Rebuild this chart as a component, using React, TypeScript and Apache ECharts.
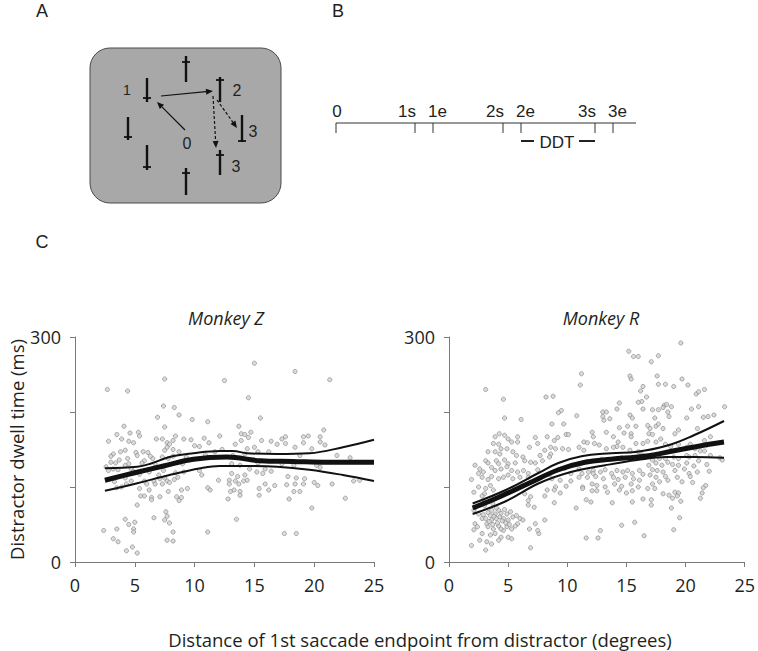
import React, { useEffect, useRef } from "react";
import * as echarts from "echarts";

// ---------- Data ----------
const xTickValues = [0, 5, 10, 15, 20, 25];
const yLabelled = [0, 300];
const panelTitles = ["Monkey Z", "Monkey R"];
const yAxisTitle = "Distractor dwell time (ms)";
const xAxisTitle = "Distance of 1st saccade endpoint from distractor (degrees)";

// Timeline (panel B)
const timelineLabels = ["0", "1s", "1e", "2s", "2e", "3s", "3e"];

// Monkey Z scatter [distance, dwell time]
const monkeyZPoints: [number, number][] = [
  [2.7,230],[4.4,228],[7.5,244],[12.5,242],[7.4,208],[8.3,206],[8.7,196],[6.9,193],[9.8,190],[11.1,187],
  [4.1,181],[7.5,180],[3.5,170],[4.6,172],[5.3,173],[5.4,168],[8.4,168],[3.9,164],[2.8,161],[4.5,161],
  [4.9,159],[6.8,164],[7.3,164],[7.7,159],[7.9,157],[8.2,162],[9.1,164],[9.7,163],[10.8,165],[11.2,159],
  [12.1,168],[3.2,144],[3.0,141],[3.8,147],[4.2,149],[5.1,146],[5.2,142],[5.7,147],[6.1,146],[7.7,153],
  [7.5,149],[8.2,150],[8.2,141],[7.3,140],[7.8,138],[8.7,147],[10.0,155],[10.4,154],[5.8,135],[6.5,138],
  [5.6,132],[6.7,131],[3.4,132],[4.2,129],[4.7,124],[4.9,121],[4.5,131],[2.8,122],[3.2,124],[3.6,123],
  [5.4,117],[6.2,120],[7.0,116],[7.4,122],[8.4,119],[9.1,120],[10.4,122],[10.6,116],[12.0,109],[3.3,107],
  [4.2,112],[4.3,104],[4.7,108],[5.8,108],[6.0,104],[6.6,108],[7.1,111],[7.5,112],[7.3,104],[7.7,108],
  [7.9,106],[8.3,110],[8.6,113],[6.7,104],[3.9,100],[3.5,99],[5.4,98],[6.2,96],[7.8,94],[8.9,96],
  [9.4,98],[11.1,99],[11.3,96],[5.5,88],[5.8,88],[6.4,86],[6.4,83],[7.1,87],[8.5,87],[8.7,82],
  [8.9,86],[5.2,76],[4.2,57],[6.6,59],[7.6,67],[7.7,61],[7.5,56],[7.9,52],[4.5,50],[5.0,53],
  [2.4,42],[3.5,44],[4.9,44],[4.9,40],[8.2,40],[11.1,40],[3.2,31],[3.6,27],[7.7,29],[8.2,28],
  [4.3,15],[4.8,20],[5.2,12],
  [15.0,265],[18.4,254],[21.3,243],[14.5,219],[15.5,192],[13.7,181],[13.9,171],[14.2,170],[14.7,173],[14.5,166],
  [13.4,157],[13.9,162],[14.4,151],[15.0,153],[15.6,162],[16.4,161],[16.9,157],[17.3,164],[17.6,167],[17.6,158],
  [18.4,153],[19.1,167],[19.5,168],[19.1,159],[19.8,151],[20.5,167],[20.5,160],[20.8,176],[20.9,156],[21.9,142],
  [23.0,139],[13.2,142],[14.2,144],[15.3,147],[16.2,147],[18.8,142],[13.1,131],[13.8,129],[14.6,124],[15.3,132],
  [15.9,124],[17.3,131],[18.3,129],[20.2,129],[20.5,126],[13.1,118],[13.6,114],[14.2,116],[15.2,120],[15.7,118],
  [16.4,121],[17.8,114],[18.5,112],[19.2,111],[12.9,109],[13.4,108],[14.1,108],[14.4,109],[12.9,104],[13.7,104],
  [15.9,104],[16.7,102],[17.7,103],[18.4,104],[19.1,104],[20.0,106],[20.3,102],[21.5,104],[23.3,108],[23.8,109],
  [13.0,94],[13.3,96],[13.8,94],[15.4,98],[16.2,96],[18.3,94],[18.8,94],[13.8,89],[15.4,89],[12.8,84],
  [17.9,84],[22.6,85],[19.8,72],[13.5,57],[17.5,38],[18.5,38],
  [2.6,127],[3.0,133],[3.7,136],[4.4,138],[6.3,141],[9.3,140],[10.9,143],[11.7,147],[12.3,150],[9.0,131],
];

// Monkey R scatter [distance, dwell time]
const monkeyRPoints: [number, number][] = [
  [3.1,230],[4.6,217],[4.7,192],[6.1,190],[8.2,220],[4.25,171],[4.7,169],[3.9,167],[5.0,164],[5.3,160],
  [5.8,167],[5.8,160],[7.3,166],[3.75,158],[4.2,157],[4.4,151],[3.3,147],[3.9,147],[4.3,144],[4.9,151],
  [5.4,147],[5.7,142],[6.8,153],[7.5,158],[7.7,142],[8.1,149],[3.1,135],[3.3,132],[4.0,135],[4.2,131],
  [4.7,136],[5.0,131],[5.6,132],[6.25,140],[6.4,135],[6.9,133],[7.3,132],[7.9,135],[2.2,129],[2.6,124],
  [2.9,120],[2.5,118],[3.6,126],[3.9,122],[4.4,124],[4.9,127],[5.3,122],[5.8,120],[6.3,122],[6.7,118],
  [7.5,123],[1.9,110],[2.8,113],[3.3,110],[3.6,114],[4.2,111],[4.6,113],[5.0,116],[5.4,111],[6.0,113],
  [6.7,113],[2.1,93],[2.5,100],[3.1,98],[3.5,102],[3.75,96],[3.0,91],[2.8,88],[6.4,91],[6.7,82],
  [6.9,87],[7.2,73],[8.1,88],[2.1,69],[2.5,64],[2.8,58],[2.2,51],[2.1,43],[2.4,47],[3.1,58],
  [3.2,51],[3.5,62],[3.6,69],[3.9,64],[4.2,69],[4.4,65],[4.0,58],[3.6,56],[4.3,60],[4.6,58],
  [4.9,64],[5.0,56],[5.4,60],[5.7,62],[6.0,58],[5.8,51],[6.25,56],[3.3,47],[3.75,44],[4.2,48],
  [4.6,42],[4.9,47],[5.3,44],[2.8,38],[3.5,36],[3.9,38],[4.4,33],[5.0,33],[5.3,31],[2.6,29],
  [3.2,27],[3.6,24],[4.2,29],[1.9,22],[3.1,16],[6.9,19],[6.8,44],[7.3,51],[7.6,38],[8.1,56],
  [7.5,42],[6.7,76],
  [3.4,54],[3.8,61],[4.1,52],[4.5,55],[4.8,52],[3.3,66],[4.0,72],[4.7,70],[5.2,67],[3.0,75],
  [3.7,78],[5.1,50],[5.6,48],[2.9,63],[4.4,44],[3.7,50],
  [15.2,281],[15.6,274],[16.0,274],[11.2,251],[15.3,248],[15.4,244],[11.1,236],[16.4,234],[8.8,221],[16.2,228],
  [16.3,214],[14.4,212],[16.0,213],[14.2,204],[9.5,202],[9.25,199],[10.8,195],[13.0,200],[13.3,200],[13.0,194],
  [13.1,189],[13.6,191],[15.3,196],[15.5,192],[16.4,204],[8.7,184],[9.7,184],[15.1,181],[15.8,181],[14.4,179],
  [12.1,173],[13.3,173],[14.8,172],[15.4,171],[9.9,170],[10.1,170],[8.3,167],[8.9,162],[9.2,166],[12.2,167],
  [13.9,167],[15.4,167],[11.4,160],[11.7,159],[12.3,158],[12.7,156],[14.3,160],[14.2,154],[15.8,158],[16.4,158],
  [8.6,153],[9.0,151],[9.6,151],[10.1,150],[11.0,153],[11.4,149],[13.3,151],[13.9,153],[14.7,153],[15.3,149],
  [16.0,147],[8.6,144],[8.5,140],[10.3,118],[11.0,124],[11.25,118],[11.8,120],[12.2,122],[12.2,118],[12.8,120],
  [13.2,123],[13.75,118],[14.2,122],[14.7,120],[15.1,122],[15.5,118],[16.1,122],[16.4,117],[8.7,111],[9.4,109],
  [10.3,108],[11.0,113],[11.7,113],[12.4,114],[13.05,111],[13.9,113],[14.3,110],[14.9,113],[15.6,111],[16.1,109],
  [9.0,100],[9.9,101],[11.3,100],[12.1,104],[12.5,102],[13.2,100],[14.0,104],[14.6,101],[15.4,104],[16.0,100],
  [8.3,96],[8.9,96],[9.4,92],[11.3,98],[12.1,95],[12.5,95],[13.4,93],[14.4,96],[15.0,92],[15.5,95],
  [11.6,83],[12.0,80],[13.8,79],[15.5,80],[16.4,84],[8.9,79],[10.75,72],[15.7,53],[14.6,49],[12.8,42],
  [11.6,32],[12.6,32],[16.5,35],
  [19.6,292],[17.7,275],[17.1,267],[17.6,248],[19.7,244],[17.7,237],[18.3,237],[19.0,234],[20.2,236],[16.7,220],
  [20.9,224],[21.1,227],[21.6,230],[18.2,209],[18.4,210],[18.8,207],[17.2,203],[17.7,203],[18.1,206],[18.5,200],
  [18.6,194],[20.5,204],[21.1,207],[23.3,207],[20.1,192],[21.5,193],[21.9,194],[22.4,196],[17.4,192],[16.8,182],
  [17.0,178],[17.5,181],[17.7,184],[18.1,178],[16.9,171],[17.2,170],[19.1,171],[19.4,176],[21.0,178],[21.6,162],
  [22.1,167],[16.8,161],[17.5,160],[17.9,164],[18.3,157],[18.75,154],[19.4,157],[20.1,153],[20.4,157],[20.8,151],
  [21.8,156],[21.25,148],[21.6,148],[22.1,142],[22.9,139],[23.1,136],[20.8,142],[20.1,142],[20.3,140],[19.4,138],
  [19.0,140],[18.3,138],[17.8,138],[17.2,136],[16.9,129],[17.5,132],[18.0,129],[18.5,133],[18.9,130],[19.4,129],
  [20.1,132],[20.7,128],[21.1,135],[21.8,130],[17.2,123],[17.6,122],[18.1,120],[19.1,122],[19.9,124],[20.3,118],
  [21.0,120],[22.0,121],[17.0,116],[17.5,113],[18.3,114],[19.3,113],[20.4,114],[17.2,104],[17.8,107],[18.5,109],
  [19.7,107],[20.6,106],[21.7,102],[21.5,99],[16.8,98],[17.4,98],[18.1,91],[18.6,89],[19.1,93],[19.4,92],
  [18.9,85],[19.3,88],[19.6,81],[21.4,92],[21.25,85],[17.1,83],[17.1,76],[18.8,72],[19.5,59],[19.0,43],
  [3.0,80],[3.8,86],[5.5,96],[6.2,101],[8.5,117],[9.8,125],[11.7,134],[12.9,137],[14.6,139],[16.3,143],
];

// Fitted curves and confidence bands
const monkeyZFit: [number, number][] = [[2.5,109],[5,119],[7.4,128],[9.9,137],[12.7,140],[15.5,135],[18.2,134],[21.1,133],[25,133]];
const monkeyZUpper: [number, number][] = [[2.5,125],[5.2,127],[6.3,131],[7.9,140],[9.9,145],[12.1,148],[13.2,148],[14.4,145],[16.9,144],[19.6,145],[22.4,153],[25,163]];
const monkeyZLower: [number, number][] = [[2.5,95],[5.2,105],[7.9,116],[10.5,125],[12.1,128],[14,128],[16.9,127],[19.6,123],[22.4,116],[25,108]];
const monkeyRFit: [number, number][] = [[2,72],[4,85],[6.75,105],[9.25,123],[11.5,133],[13.7,137],[16.5,141],[19.25,149],[22,157],[23.25,160]];
const monkeyRUpper: [number, number][] = [[2,78],[4.8,96],[7.6,119],[9.25,132],[11.2,141],[13.7,145],[15.9,147],[18.4,155],[20.7,169],[23.25,188]];
const monkeyRLower: [number, number][] = [[2,64],[4.8,81],[7.6,105],[10.3,120],[13.2,129],[15.9,136],[18.4,140],[20.7,140],[23.25,139]];

// ---------- Drawing helpers (annotation panels A and B) ----------
const HELV = "'Liberation Sans', Arial, sans-serif";
const MYR = "'Open Sans', sans-serif";

function arrow(x1: number, y1: number, x2: number, y2: number, dashed: boolean) {
  const dx = x2 - x1, dy = y2 - y1;
  const L = Math.hypot(dx, dy);
  const ux = dx / L, uy = dy / L;
  const hl = 7, hw = 3;
  const bx = x2 - ux * hl, by = y2 - uy * hl;
  return [
    { type: "line", shape: { x1, y1, x2: bx, y2: by }, style: { stroke: "#111", lineWidth: 1.2, lineDash: dashed ? [3, 2] : null } },
    { type: "polygon", shape: { points: [[x2, y2], [bx - uy * hw, by + ux * hw], [bx + uy * hw, by - ux * hw]] }, style: { fill: "#111" } },
  ];
}

function tee(x: number, y1: number, y2: number, barY: number) {
  return [
    { type: "line", shape: { x1: x, y1, x2: x, y2 }, style: { stroke: "#111", lineWidth: 2.4 } },
    { type: "line", shape: { x1: x - 4, y1: barY, x2: x + 4, y2: barY }, style: { stroke: "#111", lineWidth: 1.8 } },
  ];
}

function txt(x: number, y: number, text: string, size: number, align = "center", family = HELV, style = "normal") {
  return {
    type: "text",
    x, y,
    style: { text, fontSize: size, fontFamily: family, fontStyle: style, fill: "#231f20", align, verticalAlign: "middle" },
  };
}

const timelinePos = [336, 415, 433, 503, 521, 595, 613];

function buildGraphics() {
  const g: any[] = [];
  // Panel letters
  g.push(txt(42, 11, "A", 18));
  g.push(txt(338, 11, "B", 18));
  g.push(txt(42, 242, "C", 18));
  // Panel A
  g.push({ type: "rect", shape: { x: 90, y: 48, width: 191, height: 155, r: 20 }, style: { fill: "#a8a8a8", stroke: "#4a4a4a", lineWidth: 1 } });
  const tees: [number, number, number, number][] = [
    [186, 56, 82, 62], [147, 78, 102, 98], [220, 77, 102, 80], [242, 115, 142, 141],
    [128, 117, 140, 137], [147, 145, 170, 167], [220, 150, 175, 155], [186, 168, 195, 173],
  ];
  tees.forEach((t) => g.push(...tee(t[0], t[1], t[2], t[3])));
  g.push(txt(127, 90, "1", 14));
  g.push(txt(237, 90, "2", 16));
  g.push(txt(253, 131, "3", 16));
  g.push(txt(187, 143, "0", 16));
  g.push(txt(236, 166, "3", 16));
  g.push(...arrow(185, 130, 157, 102, false));
  g.push(...arrow(161, 96, 213, 91, false));
  g.push(...arrow(213, 96, 216, 148, true));
  g.push(...arrow(217, 100, 237, 128, true));
  // Panel B timeline
  g.push({ type: "line", shape: { x1: 336, y1: 123, x2: 636, y2: 123 }, style: { stroke: "#333", lineWidth: 1 } });
  timelineLabels.forEach((lab, i) => {
    const x = timelinePos[i];
    g.push({ type: "line", shape: { x1: x, y1: 123, x2: x, y2: 133 }, style: { stroke: "#333", lineWidth: 1 } });
    let align = "center";
    let lx = x;
    if (lab.endsWith("s")) { align = "right"; lx = x + 1; }
    if (lab.endsWith("e")) { align = "left"; lx = x - 5; }
    if (lab === "0") { lx = x + 1; }
    g.push(txt(lx, 111, lab, 17, align));
  });
  g.push({ type: "line", shape: { x1: 521, y1: 141, x2: 534, y2: 141 }, style: { stroke: "#222", lineWidth: 2 } });
  g.push(txt(557, 142, "DDT", 17));
  g.push({ type: "line", shape: { x1: 579, y1: 141, x2: 595, y2: 141 }, style: { stroke: "#222", lineWidth: 2 } });
  // Panel C titles
  g.push(txt(226, 318, panelTitles[0], 18, "center", MYR, "italic"));
  g.push(txt(601, 318, panelTitles[1], 18, "center", MYR, "italic"));
  g.push(txt(420, 639, xAxisTitle, 18.5, "center", MYR));
  return g;
}

function makeXAxis(gridIndex: number) {
  return {
    type: "value", gridIndex, min: 0, max: 25, interval: 5,
    axisLine: { lineStyle: { color: "#7a7a7a", width: 1 } },
    axisTick: { show: true, length: 5, lineStyle: { color: "#7a7a7a" } },
    splitLine: { show: false },
    axisLabel: {
      fontSize: 18, fontFamily: MYR, color: "#231f20", margin: 14,
      formatter: (v: number) => (xTickValues.includes(v) ? String(v) : ""),
    },
  };
}

function makeYAxis(gridIndex: number, withName: boolean) {
  return {
    type: "value", gridIndex, min: 0, max: 300, interval: 100,
    axisLine: { show: true, lineStyle: { color: "#7a7a7a", width: 1 } },
    axisTick: { show: true, length: 5, lineStyle: { color: "#7a7a7a" } },
    splitLine: { show: false },
    axisLabel: {
      fontSize: 18, fontFamily: MYR, color: "#231f20", margin: 14,
      formatter: (v: number) => (yLabelled.includes(v) ? String(v) : ""),
    },
    name: withName ? yAxisTitle : "",
    nameLocation: "middle",
    nameGap: 45,
    nameTextStyle: { fontSize: 18.5, fontFamily: MYR, color: "#231f20" },
  };
}

function scatter(data: [number, number][], idx: number) {
  return {
    type: "scatter", xAxisIndex: idx, yAxisIndex: idx, data, symbolSize: 4.2,
    itemStyle: { color: "#d2d2d2", borderColor: "#8c8c8c", borderWidth: 0.9 },
    z: 2,
  };
}

function curve(data: [number, number][], idx: number, width: number) {
  return {
    type: "line", xAxisIndex: idx, yAxisIndex: idx, data, smooth: 0.4, showSymbol: false, symbol: "none",
    lineStyle: { color: "#111", width }, z: 5,
  };
}

export default function App() {
  const ref = useRef<HTMLDivElement>(null);
  useEffect(() => {
    if (!ref.current) return;
    const chart = echarts.init(ref.current, null, { renderer: "svg" });
    chart.setOption({
      animation: false,
      backgroundColor: "#ffffff",
      grid: [
        { left: 75, top: 337, width: 299, height: 225 },
        { left: 449, top: 337, width: 300, height: 225 },
      ],
      xAxis: [makeXAxis(0), makeXAxis(1)],
      yAxis: [makeYAxis(0, true), makeYAxis(1, false)],
      series: [
        scatter(monkeyZPoints, 0),
        scatter(monkeyRPoints, 1),
        curve(monkeyZUpper, 0, 2),
        curve(monkeyZLower, 0, 2),
        curve(monkeyZFit, 0, 5),
        curve(monkeyRUpper, 1, 2),
        curve(monkeyRLower, 1, 2),
        curve(monkeyRFit, 1, 5),
      ],
      graphic: buildGraphics(),
    });
    return () => chart.dispose();
  }, []);
  return <div ref={ref} style={{ position: "absolute", left: 0, top: 0, width: 758, height: 651 }} />;
}
